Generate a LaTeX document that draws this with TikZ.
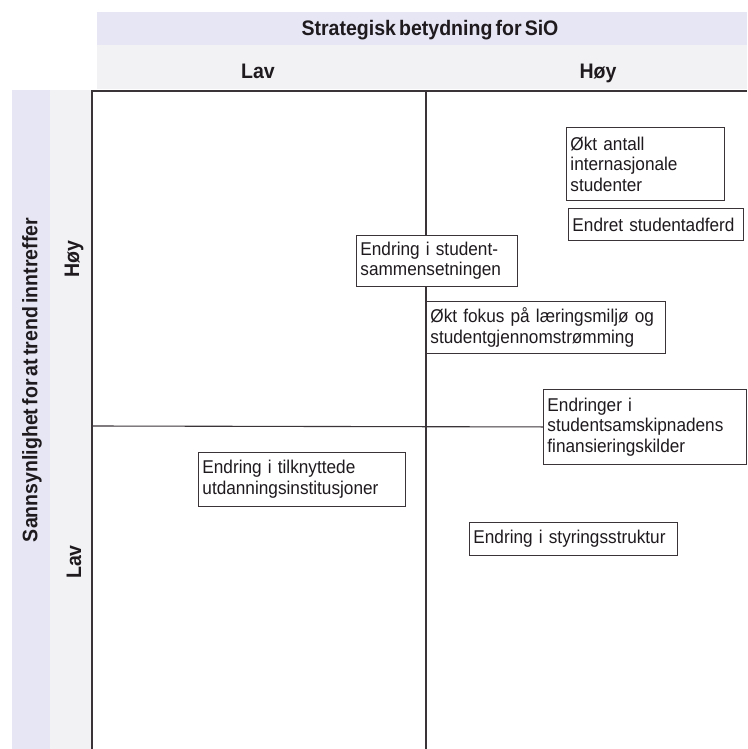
\documentclass[tikz,border=0pt]{standalone}
\usepackage{fontspec}
\setmainfont{Liberation Sans}[WordSpace=0.58, FakeStretch=0.93]
\definecolor{bandlav}{HTML}{E6E6F4}
\definecolor{bandgray}{HTML}{F2F2F5}
\definecolor{frameline}{HTML}{3A3438}
\definecolor{boxline}{HTML}{3A3438}
\definecolor{txt}{HTML}{1E1A1E}
\begin{document}
\begin{tikzpicture}[x=1pt,y=-1pt,
  tbox/.style={draw=boxline, line width=0.9pt, fill=white, rectangle, anchor=north west,
    align=left, inner xsep=4pt, inner ysep=2pt, font=\fontsize{18.5}{20.5}\selectfont, text=txt},
  hdr/.style={font=\bfseries\fontsize{21}{23}\selectfont, text=txt, inner sep=0pt},
  frameln/.style={draw=frameline, line width=1.1pt}]
\useasboundingbox (0,0) rectangle (747,749);
\fill[white] (0,0) rectangle (747,749);
% header bands
\fill[bandlav] (97,12) rectangle (747,45);
\fill[bandgray] (97,45) rectangle (747,89);
\fill[bandlav] (12,90) rectangle (50,749);
\fill[bandgray] (50,90) rectangle (92,749);
% header labels
\node[hdr] (title) at (430,30) {Strategisk betydning for SiO};
\node[hdr] (lavx) at (258,71) {Lav};
\node[hdr] (hoyx) at (598,73) {Høy};
\node[hdr, rotate=90] (ylab) at (32,380) {Sannsynlighet for at trend inntreffer};
\node[hdr, rotate=90] (hoyy) at (74,259) {Høy};
\node[hdr, rotate=90] (lavy) at (74,562) {Lav};
% frame coordinates
\coordinate (tl) at (92,91);
\coordinate (tr) at (747,91);
\coordinate (bl) at (92,749);
\coordinate (mt) at (426,91);
\coordinate (mb) at (426,749);
\coordinate (ml) at (92,426);
\draw[frameln] (bl) -- (tl) -- (tr);
\draw[frameln] (mt) -- (mb);
% boxes
\node[tbox, text width=150pt, minimum width=158pt, minimum height=73pt] (b1) at (566,127)
  {Økt antall\\internasjonale\\studenter};
\node[tbox, text width=167pt, minimum width=175pt, minimum height=32pt] (b2) at (568,208)
  {Endret studentadferd};
\node[tbox, text width=153pt, minimum width=161pt, minimum height=51pt] (b3) at (356,235)
  {Endring i student-\\sammensetningen};
\node[tbox, text width=231pt, minimum width=239pt, minimum height=52pt] (b4) at (426,301)
  {Økt fokus på læringsmiljø og\\studentgjennomstrømming};
\node[tbox, text width=195pt, minimum width=203pt, minimum height=75pt] (b5) at (543,389)
  {Endringer i\\studentsamskipnadens\\finansieringskilder};
\node[tbox, text width=199pt, minimum width=207pt, minimum height=54pt] (b6) at (198,452)
  {Endring i tilknyttede\\utdanningsinstitusjoner};
\node[tbox, text width=200pt, minimum width=208pt, minimum height=33pt] (b7) at (469,522)
  {Endring i styringsstruktur};
\draw[frameln] (ml) -- (b5.west);
\end{tikzpicture}
\end{document}
